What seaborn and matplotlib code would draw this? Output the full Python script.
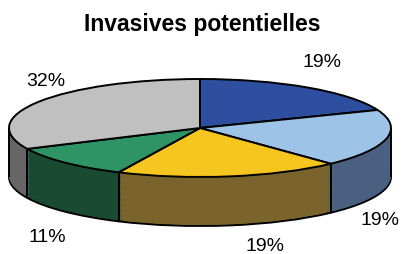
import numpy as np
import matplotlib
matplotlib.use("Agg")
import matplotlib.pyplot as plt
import seaborn as sns

sns.set_style("white")
plt.rcParams['font.family'] = ['Liberation Sans', 'DejaVu Sans']
plt.rcParams['text.color'] = 'black'

# slice values (clockwise from 12 o'clock) and their labels
shares = [19, 19, 19, 11, 32]
pct_labels = ["19%", "19%", "19%", "11%", "32%"]
top_colors = ["#2E4FA0", "#9DC3E6", "#F5C520", "#2E9466", "#C0C0C0"]
side_colors = ["#1F3570", "#4A6080", "#7A642C", "#1B4A33", "#666666"]

# label positions (x, y in pie units, y squashed)
label_pos = [(0.64, 1.35), (0.94, -1.86), (0.34, -2.40), (-0.80, -2.22), (-0.81, 0.96)]

depth = 1.0
n_layers = 40

fig = plt.figure(figsize=(4.04, 2.55), dpi=100)
ax = fig.add_axes([0, 0, 1, 1])

# side walls: stack of darker pies from bottom up
for k in range(n_layers, 0, -1):
    edge = "black" if k == n_layers else "none"
    ax.pie(shares, colors=side_colors, startangle=90, counterclock=False,
           center=(0, -k * depth / n_layers), radius=1,
           wedgeprops=dict(edgecolor=edge, linewidth=1.4))

# vertical edges of the walls at slice boundaries in front + the two extremes
bounds = 90 - np.cumsum([0] + shares) / sum(shares) * 360
for a in np.deg2rad(bounds):
    if np.sin(a) < 0:
        ax.vlines(np.cos(a), np.sin(a) - depth, np.sin(a), color="black", lw=1.4)
ax.vlines([-1, 1], -depth, 0, color="black", lw=1.4)

# top face
ax.pie(shares, colors=top_colors, startangle=90, counterclock=False,
       center=(0, 0), radius=1,
       wedgeprops=dict(edgecolor="black", linewidth=1.4))

for (x, y), lab in zip(label_pos, pct_labels):
    ax.text(x, y, lab, ha="center", va="center", fontsize=14, color="black")

ax.set_aspect("auto")
ax.set_xlim(-200 / 191, 204 / 191)
ax.set_ylim((129 - 255) / 49, 129 / 49)
ax.axis("off")

fig.text(0.5, 1 - 25 / 255, "Invasives potentielles", ha="center", va="center",
         fontsize=16.5, fontweight="bold", color="black")

fig.savefig("out.png", dpi=100, facecolor="white")
